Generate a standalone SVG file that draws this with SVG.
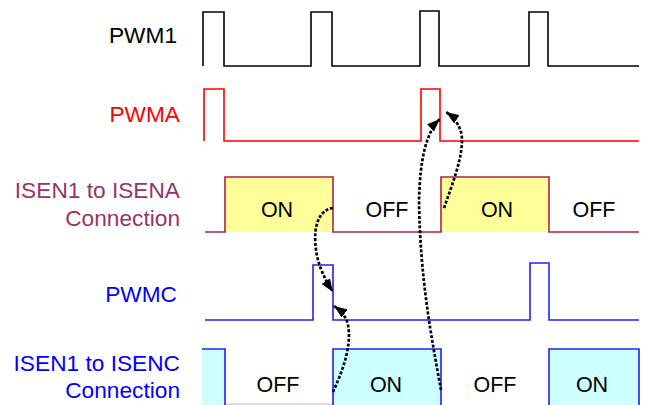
<svg xmlns="http://www.w3.org/2000/svg" width="646" height="405" viewBox="0 0 646 405">
<style>
.lbl{font-family:"Liberation Sans",Arial,sans-serif;font-size:22.7px;text-anchor:end}
.st{font-family:"Liberation Sans",Arial,sans-serif;font-size:21.5px;text-anchor:middle;fill:#000}
.wave{fill:none;stroke-width:1.6;stroke-linejoin:miter}
.arr{fill:none;stroke:#000;stroke-width:2.7;stroke-dasharray:3 1.8;marker-end:url(#ah)}
</style>
<defs>
<marker id="ah" markerUnits="userSpaceOnUse" markerWidth="13" markerHeight="10" refX="13" refY="5" orient="auto">
<path d="M0,0 L13,5 L0,10 z" fill="#000"/>
</marker>
</defs>
<rect width="646" height="405" fill="#fff"/>

<g id="pwm1">
<text class="lbl" x="177" y="43" fill="#000">PWM1</text>
<path class="wave" stroke="#000" d="M203,66 V12 H224 V66 H311 V12 H332 V66 H420 V11 H439 V66 H529 V12 H548 V66 H639"/>
</g>

<g id="pwma">
<text class="lbl" x="180" y="122" fill="#ff0000">PWMA</text>
<path class="wave" stroke="#ff0000" d="M204,141 V89 H224 V141 H421 V89 H440 V141 H639"/>
</g>

<g id="isena">
<text class="lbl" x="180" y="198" fill="#993366">ISEN1 to ISENA</text>
<text class="lbl" x="180" y="226" fill="#993366">Connection</text>
<rect x="225" y="177" width="108" height="55" fill="#ffff99"/>
<rect x="441" y="177" width="108" height="55" fill="#ffff99"/>
<path class="wave" stroke="#b02048" d="M205,232 H225 V177 H333 V232 H441 V177 H549 V232 H639"/>
<text class="st" x="277" y="217">ON</text>
<text class="st" x="387" y="217">OFF</text>
<text class="st" x="497" y="217">ON</text>
<text class="st" x="594" y="217">OFF</text>
</g>

<g id="pwmc">
<text class="lbl" x="177" y="302" fill="#0000ff">PWMC</text>
<path class="wave" stroke="#2020ff" d="M205,320 H313 V265 H333 V320 H530 V263 H549 V320 H639"/>
</g>

<g id="isenc">
<text class="lbl" x="180" y="371" fill="#0000ff">ISEN1 to ISENC</text>
<text class="lbl" x="180" y="398" fill="#0000ff">Connection</text>
<rect x="202" y="349" width="23" height="56" fill="#ccffff"/>
<rect x="333" y="349" width="108" height="56" fill="#ccffff"/>
<rect x="549" y="349" width="90" height="56" fill="#ccffff"/>
<path fill="none" stroke="#ccccff" stroke-width="1.6" d="M225,404 H333"/>
<path class="wave" stroke="#2020ff" d="M202,349 H225 V405"/>
<path class="wave" stroke="#2020ff" d="M333,405 V349 H441 V405"/>
<path class="wave" stroke="#2020ff" d="M549,405 V349 H639 V405"/>
<text class="st" x="278" y="392">OFF</text>
<text class="st" x="386" y="392">ON</text>
<text class="st" x="495" y="392">OFF</text>
<text class="st" x="592" y="392">ON</text>
</g>

<g id="connectors">
<path class="arr" d="M333,208 C318,210 313,228 316,250 C318,265 325,280 333,292"/>
<path class="arr" d="M333,392 C343,370 352,345 348,325 C346,316 341,311 334,306"/>
<path class="arr" d="M441,390 C432,340 420,280 419,200 C420,160 426,132 440,119"/>
<path class="arr" d="M444,208 C452,185 462,160 462,140 C462,128 455,118 446,112"/>
</g>
</svg>
